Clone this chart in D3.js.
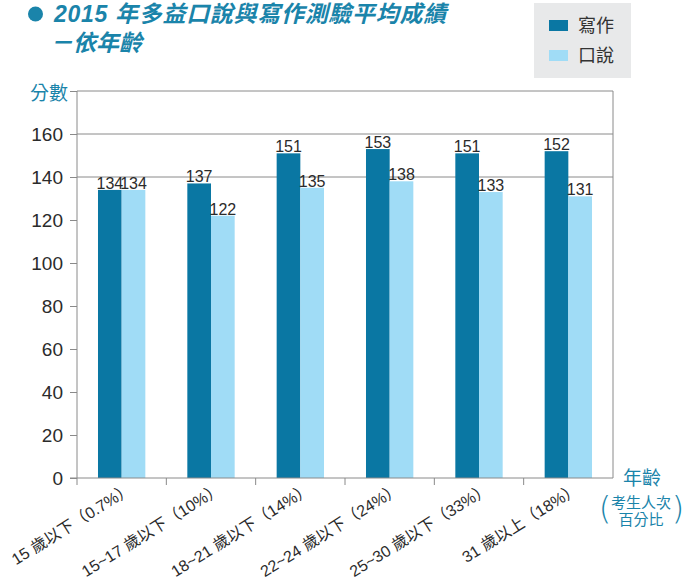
<!DOCTYPE html>
<html>
<head>
<meta charset="utf-8">
<script src="https://cdn.jsdelivr.net/npm/d3@7"></script>
<style>
  body { margin: 0; background: #fff; }
  svg { font-family: "Liberation Sans", Arial, "Noto Sans CJK TC", sans-serif; }
</style>
</head>
<body>
<div id="chart"></div>
<script>
var categories = ["15 歲以下（0.7%）", "15~17 歲以下（10%）", "18~21 歲以下（14%）",
    "22~24 歲以下（24%）", "25~30 歲以下（33%）", "31 歲以上（18%）"];
var seriesNames = ["寫作", "口說"];
var writing = [134, 137, 151, 153, 151, 152];
var speaking = [134, 122, 135, 138, 133, 131];
var yTicks = [0, 20, 40, 60, 80, 100, 120, 140, 160];
var gridValues = [140, 160];

function drawChart() {
    var width = 694, height = 577;
    var plotLeft = 77, plotRight = 613, plotTop = 91, plotBottom = 478;
    var colors = ["#0a77a3", "#a0dcf6"];
    var teal = "#1a84aa";

    var svg = d3.select('#chart')
        .append('svg')
        .attr('width', width)
        .attr('height', height);

    var x = d3.scaleBand().domain(categories).range([plotLeft, plotRight]).paddingInner(0.47).paddingOuter(0.235);
    var xSub = d3.scaleBand().domain(seriesNames).range([0, x.bandwidth()]);
    var y = d3.scaleLinear().domain([0, 180]).range([plotBottom, plotTop]);

    // title
    svg.append('circle').attr('cx', 35.5).attr('cy', 14).attr('r', 7.5).attr('fill', teal);
    svg.append('text').attr('x', 54).attr('y', 22)
        .attr('fill', teal).style('font-size', '23px').style('font-weight', 'bold').style('font-style', 'italic')
        .style('letter-spacing', '0.7px')
        .text('2015 年多益口說與寫作測驗平均成績');
    svg.append('text').attr('x', 50).attr('y', 51)
        .attr('fill', teal).style('font-size', '23px').style('font-weight', 'bold').style('font-style', 'italic')
        .text('－依年齡');

    // legend
    var legend = svg.append('g');
    legend.append('rect').attr('x', 534).attr('y', 3).attr('width', 97).attr('height', 75).attr('fill', '#e8e9ea');
    seriesNames.forEach(function (name, i) {
        legend.append('rect').attr('x', 549).attr('y', 20 + i * 30).attr('width', 19).attr('height', 11)
            .attr('fill', colors[i]);
        legend.append('text').attr('x', 578).attr('y', 32 + i * 30)
            .attr('fill', '#333').style('font-size', '18px').text(name);
    });

    // frame + grid
    svg.append('line').attr('x1', plotLeft).attr('x2', plotRight).attr('y1', plotTop).attr('y2', plotTop).attr('stroke', '#8a8a8a');
    svg.append('line').attr('x1', plotRight).attr('x2', plotRight).attr('y1', plotTop).attr('y2', plotBottom).attr('stroke', '#8a8a8a');
    svg.selectAll('.grid')
        .data(gridValues)
        .enter()
        .append('line')
        .attr('x1', plotLeft).attr('x2', plotRight)
        .attr('y1', d => y(d)).attr('y2', d => y(d))
        .attr('stroke', '#8a8a8a');

    // y axis
    var yAxis = svg.append('g')
        .attr('transform', 'translate(' + plotLeft + ',0)')
        .call(d3.axisLeft(y).tickValues(yTicks.concat([180])).tickSize(7).tickPadding(7).tickFormat(d => d === 180 ? '' : d));
    yAxis.select('.domain').attr('stroke', '#8a8a8a').attr('d', 'M0,' + plotTop + 'V' + plotBottom);
    yAxis.selectAll('.tick line').attr('stroke', '#8a8a8a');
    yAxis.selectAll('.tick text').attr('fill', '#2b2b2b').style('font-size', '19px').style('font-family', '"Liberation Sans", Arial, sans-serif');

    svg.append('text').attr('x', 68).attr('y', 100).attr('text-anchor', 'end')
        .attr('fill', teal).style('font-size', '19px').text('分數');

    // bars
    var groups = svg.selectAll('.group')
        .data(categories)
        .enter()
        .append('g')
        .attr('transform', d => 'translate(' + x(d) + ',0)');

    var series = [writing, speaking];
    series.forEach(function (vals, s) {
        groups.append('rect')
            .attr('x', xSub(seriesNames[s]))
            .attr('width', xSub.bandwidth())
            .attr('y', (d, i) => y(vals[i]))
            .attr('height', (d, i) => plotBottom - y(vals[i]))
            .attr('fill', colors[s]);
        groups.append('text')
            .attr('x', xSub(seriesNames[s]) + xSub.bandwidth() / 2)
            .attr('y', (d, i) => y(vals[i]) - 1)
            .attr('text-anchor', 'middle')
            .attr('fill', '#2b2b2b')
            .style('font-size', '16px')
            .text((d, i) => vals[i]);
    });

    // x axis
    var xAxis = svg.append('g')
        .attr('transform', 'translate(0,' + plotBottom + ')')
        .call(d3.axisBottom(x).tickSize(0).tickFormat(''));
    xAxis.select('.domain').attr('stroke', '#8a8a8a').attr('d', 'M' + (plotLeft - 7) + ',0H' + plotRight);
    var step = x.step();
    svg.selectAll('.xtick')
        .data(d3.range(categories.length))
        .enter()
        .append('line')
        .attr('x1', i => plotLeft + i * step).attr('x2', i => plotLeft + i * step)
        .attr('y1', plotBottom).attr('y2', plotBottom + 7)
        .attr('stroke', '#8a8a8a');

    svg.selectAll('.xlabel')
        .data(categories)
        .enter()
        .append('text')
        .attr('transform', d => 'translate(' + (x(d) + x.bandwidth() / 2 + 12) + ',' + (plotBottom + 14) + ') rotate(-32)')
        .attr('text-anchor', 'end')
        .attr('fill', '#2b2b2b')
        .style('font-size', '16px')
        .text(d => d);

    // x axis title
    svg.append('text').attr('x', 642).attr('y', 485).attr('text-anchor', 'middle')
        .attr('fill', teal).style('font-size', '19px').text('年齡');
    svg.append('text').attr('x', 641).attr('y', 508).attr('text-anchor', 'middle')
        .attr('fill', teal).style('font-size', '15px').text('考生人次');
    svg.append('text').attr('x', 641).attr('y', 525).attr('text-anchor', 'middle')
        .attr('fill', teal).style('font-size', '15px').text('百分比');
    svg.append('text').attr('x', 605).attr('y', 519).attr('text-anchor', 'middle')
        .attr('fill', teal).style('font-size', '32px').style('font-family', '"DejaVu Sans", sans-serif')
        .style('font-weight', '200').text('(');
    svg.append('text').attr('x', 678).attr('y', 519).attr('text-anchor', 'middle')
        .attr('fill', teal).style('font-size', '32px').style('font-family', '"DejaVu Sans", sans-serif')
        .style('font-weight', '200').text(')');
}

drawChart();
</script>
</body>
</html>
